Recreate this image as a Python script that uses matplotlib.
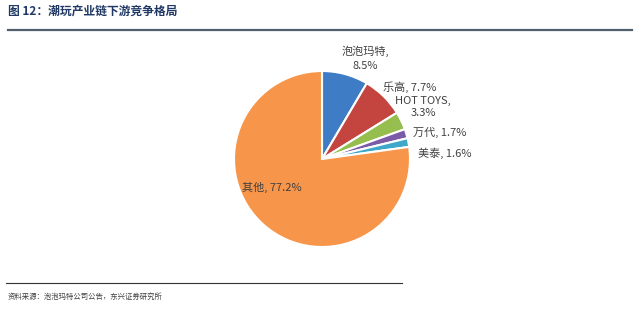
import matplotlib.pyplot as plt
from matplotlib.lines import Line2D

plt.rcParams['font.family'] = ['Noto Sans CJK SC', 'DejaVu Sans']

# Market share of downstream trendy-toy companies
names = ['泡泡玛特', '乐高', 'HOT TOYS', '万代', '美泰', '其他']
shares = [8.5, 7.7, 3.3, 1.7, 1.6, 77.2]
colors = ['#3F7CC6', '#C4443F', '#96BE4E', '#7B5AA6', '#3FA8C8', '#F7964A']

W, H = 640, 314
fig = plt.figure(figsize=(W / 100, H / 100), dpi=100)

# pie axes: centre (322, 159) px, radius 88 px
cx, cy, r = 322, 159, 88
ax = fig.add_axes([(cx - r) / W, (H - cy - r) / H, 2 * r / W, 2 * r / H])
ax.pie(shares, colors=colors, startangle=90, counterclock=False,
       wedgeprops=dict(edgecolor='white', linewidth=1.5))
ax.set_xlim(-1, 1)
ax.set_ylim(-1, 1)
ax.set_aspect('equal')
ax.axis('off')

# labels (pixel positions from top-left)
lab_pos = {
    0: (365, 58, 'center', 1.5),
    1: (383, 87, 'left', 1.0),
    2: (423, 107, 'center', 1.35),
    3: (413, 132, 'left', 1.0),
    4: (418, 153, 'left', 1.0),
    5: (272, 187, 'center', 1.0),
}
for i, (x, y, ha, ls) in lab_pos.items():
    if i in (0, 2):
        txt = f'{names[i]},\n{shares[i]}%'
    else:
        txt = f'{names[i]}, {shares[i]}%'
    fig.text(x / W, 1 - y / H, txt, ha=ha, va='center', fontsize=8,
             color='#404040', linespacing=ls)

# title and rules
fig.text(8 / W, 1 - 11 / H, '图 12：潮玩产业链下游竞争格局', ha='left', va='center',
         fontsize=8.5, fontweight='bold', color='#1F3864')
fig.add_artist(Line2D([8 / W, 632 / W], [1 - 30 / H, 1 - 30 / H],
                      color='#51606E', linewidth=1.6))
fig.add_artist(Line2D([6 / W, 402 / W], [1 - 283 / H, 1 - 283 / H],
                      color='#333333', linewidth=0.8))
fig.text(8 / W, 1 - 297 / H, '资料来源：泡泡玛特公司公告，东兴证券研究所', ha='left', va='center',
         fontsize=5.3, style='italic', color='#404040')

fig.savefig('out.png', dpi=100, facecolor='white')
